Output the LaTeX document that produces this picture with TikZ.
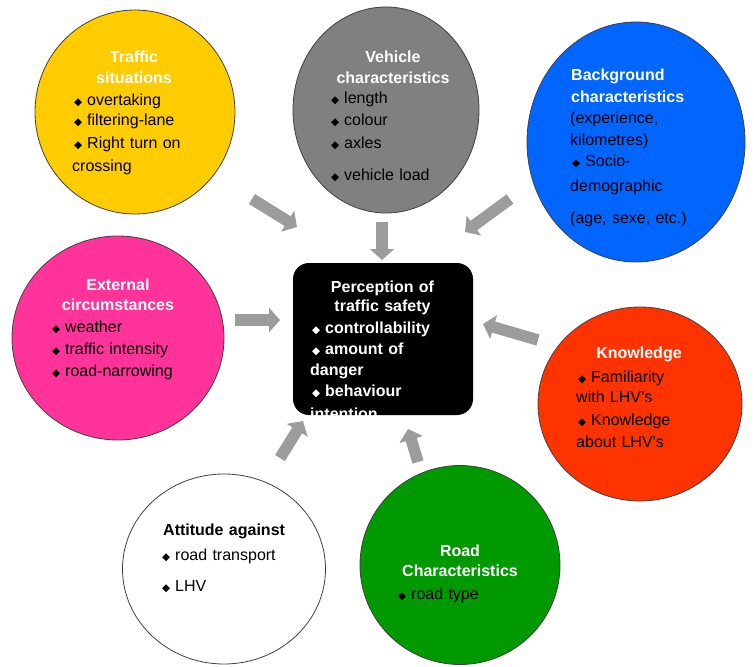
\documentclass[tikz,border=0pt]{standalone}
\usepackage{fontspec}
\setmainfont{Liberation Sans}
\newfontfamily\symfont{DejaVu Sans}
\usetikzlibrary{shapes.geometric,arrows.meta}
\definecolor{cyellow}{HTML}{FFCC00}
\definecolor{cgray}{HTML}{808080}
\definecolor{cblue}{HTML}{0066FF}
\definecolor{cpink}{HTML}{FF3399}
\definecolor{corange}{HTML}{FF3300}
\definecolor{cgreen}{HTML}{009900}
\definecolor{arrgray}{HTML}{9C9C9C}
\newcommand\bul{\makebox[15pt][l]{\hspace{2pt}{\symfont\fontsize{10.5}{10.5}\selectfont ◆}}}
\begin{document}
\begin{tikzpicture}[x=1pt,y=-1pt,
  circ/.style={ellipse, draw=black!75, line width=0.8pt, inner sep=0pt},
  ttl/.style={anchor=base, align=center, text width=200pt, inner sep=0pt, text=white,
    font=\fontsize{16}{20.5}\selectfont\bfseries},
  ttlw/.style={anchor=base west, align=left, text width=200pt, inner sep=0pt, text=white,
    font=\fontsize{16}{22}\selectfont\bfseries},
  lst/.style={anchor=base west, align=left, text width=200pt, inner sep=0pt,
    font=\fontsize{16}{22}\selectfont},
  blk/.style={line width=11.5pt, draw=arrgray, -{Triangle[length=11pt,width=24pt]}}]
\useasboundingbox (0,0) rectangle (754,666);

% circles and box
\node[circ, fill=cyellow, minimum width=200pt, minimum height=204pt] (traffic) at (135,112) {};
\node[circ, fill=cgray, minimum width=186pt, minimum height=206pt] (vehicle) at (386,110) {};
\node[circ, fill=cblue, minimum width=218pt, minimum height=240pt] (backgr) at (636,142) {};
\node[circ, fill=cpink, minimum width=212pt, minimum height=204pt] (extern) at (118,338) {};
\node[circ, fill=corange, minimum width=204pt, minimum height=194pt] (knowl) at (640,404) {};
\node[circ, fill=white, minimum width=203pt, minimum height=190pt] (attit) at (224,569) {};
\node[circ, fill=cgreen, minimum width=200pt, minimum height=199pt] (road) at (460,565) {};
\node[rounded corners=16pt, fill=black, minimum width=180pt, minimum height=152pt, inner sep=0pt] (center) at (383,339) {};

% texts
\node[ttl] (trafficT) at (134,62.7) {Traffic\\situations};
\node[lst] (trafficL) at (72,106) {\bul overtaking\\[-2pt]\bul filtering-lane\\[1pt]\bul Right turn on\\[1pt]crossing};

\node[ttl] (vehicleT) at (393,63) {Vehicle\\characteristics};
\node[lst] (vehicleL) at (329,104) {\bul length\\[-1pt]\bul colour\\[1pt]\bul axles\\[11pt]\bul vehicle load};

\node[ttlw] (backgrT) at (571,81) {Background\\characteristics};
\node[lst] (backgrL) at (570,124) {(experience,\\[-1pt]kilometres)\\\bul Socio-\\[2pt]demographic\\[11pt](age, sexe, etc.)};

\node[ttl] (externT) at (118,290) {External\\circumstances};
\node[lst] (externL) at (50,332) {\bul weather\\\bul traffic intensity\\\bul road-narrowing};

\node[ttl, font=\fontsize{16}{19}\selectfont\bfseries] (centerT) at (382.5,292) {Perception of\\traffic safety};
\node[lst, text=white, font=\fontsize{16}{21}\selectfont\bfseries] (centerL) at (310,333) {\bul controllability\\\bul amount of\\danger\\\bul behaviour\\[2pt]intention};

\node[ttl] (knowlT) at (639,358) {Knowledge};
\node[lst] (knowlL) at (576,382) {\bul Familiarity\\[-2pt]with LHV's\\[1pt]\bul Knowledge\\about LHV's};

\node[ttlw, text=black] (attitT) at (163,535) {Attitude against};
\node[lst] (attitL) at (160,560) {\bul road transport\\[9pt]\bul LHV};

\node[ttl] (roadT) at (460,556) {Road\\Characteristics};
\node[lst] (roadL) at (396,599) {\bul road type};

% arrows
\coordinate (a1s) at (252,199); \coordinate (a1e) at (297,227);
\coordinate (a2s) at (382,222); \coordinate (a2e) at (382,260);
\coordinate (a3s) at (510,199); \coordinate (a3e) at (465,232);
\coordinate (a4s) at (235,320); \coordinate (a4e) at (280,320);
\coordinate (a5s) at (538,340); \coordinate (a5e) at (483,324);
\coordinate (a6s) at (280,458); \coordinate (a6e) at (303,421);
\coordinate (a7s) at (418,462); \coordinate (a7e) at (408,429);
\foreach \i in {1,...,7} { \draw[blk] (a\i s) -- (a\i e); }
\end{tikzpicture}
\end{document}
